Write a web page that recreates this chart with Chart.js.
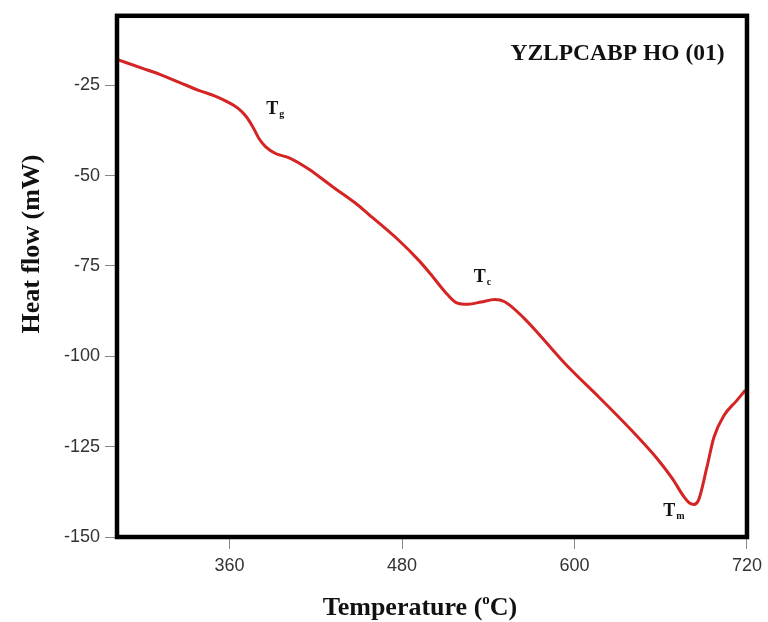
<!DOCTYPE html>
<html>
<head>
<meta charset="utf-8">
<script src="https://cdn.jsdelivr.net/npm/chart.js@4"></script>
<style>
html,body{margin:0;padding:0;background:#fff;}
canvas{display:block;}
</style>
</head>
<body>
<canvas id="c" width="768" height="622"></canvas>
<script>
// ---- data ----
const temperature = [281.7, 300, 311.5, 325, 339, 350, 357.5, 366, 371.4, 376, 380.7, 385, 392, 401.5, 415, 431, 447.5, 457, 477.7, 491.5, 500, 510, 518, 526, 535, 544.5, 551.4, 565, 576.8, 590.6, 600, 616, 639, 657.7, 668, 676.2, 680, 683, 686.5, 692, 697, 704, 713, 718.8];
const heatFlow    = [-17.9, -20.4, -22, -24.2, -26.5, -28.0, -29.4, -31.4, -33.6, -36.4, -39.9, -42.0, -43.9, -45.1, -48.2, -52.9, -57.6, -60.8, -67.9, -73.4, -77.3, -82.2, -85.2, -85.6, -85, -84.3, -84.9, -89.5, -94.6, -100.8, -104.7, -110.9, -120.2, -128.4, -133.8, -138.9, -140.6, -141, -139.6, -130.9, -122.4, -116.4, -112.2, -109.4];
const xTicks = [360, 480, 600, 720];
const yTicks = [-150, -125, -100, -75, -50, -25];
const chartTitle = 'YZLPCABP HO (01)';
const xTitle = ['Temperature (', 'o', 'C)'];
const yTitle = 'Heat flow (mW)';
const annotations = [
  {x: 389.7, y: -31.6, main: 'T', sub: 'g'},
  {x: 534, y: -78, main: 'T', sub: 'c'},
  {x: 666, y: -142.8, main: 'T', sub: 'm'}
];

const points = temperature.map((t, i) => ({x: t, y: heatFlow[i]}));

const serif = '"Liberation Serif", "Times New Roman", serif';

const decor = {
  id: 'decor',
  afterDraw(chart) {
    const ctx = chart.ctx;
    const a = chart.chartArea;
    const xs = chart.scales.x, ys = chart.scales.y;
    ctx.save();
    // frame
    ctx.strokeStyle = '#000';
    ctx.lineWidth = 4.5;
    ctx.strokeRect(a.left, a.top, a.right - a.left, a.bottom - a.top);
    // chart title
    ctx.fillStyle = '#111';
    ctx.font = 'bold 23.5px ' + serif;
    ctx.textAlign = 'center';
    ctx.textBaseline = 'middle';
    ctx.fillText(chartTitle, 617.5, 54);
    // annotations
    annotations.forEach(an => {
      const px = xs.getPixelForValue(an.x);
      const py = ys.getPixelForValue(an.y);
      ctx.font = 'bold 18px ' + serif;
      ctx.textAlign = 'left';
      ctx.textBaseline = 'alphabetic';
      const w = ctx.measureText(an.main).width;
      ctx.fillText(an.main, px - w / 2, py + 5);
      ctx.font = 'bold 10px ' + serif;
      ctx.fillText(an.sub, px + w / 2 + 1, py + 8);
    });
    // x title with superscript
    ctx.font = 'bold 26px ' + serif;
    const w1 = ctx.measureText(xTitle[0]).width;
    const w3 = ctx.measureText(xTitle[2]).width;
    ctx.font = 'bold 15px ' + serif;
    const w2 = ctx.measureText(xTitle[1]).width;
    const total = w1 + w2 + w3;
    let sx = 420 - total / 2;
    const base = 615;
    ctx.textAlign = 'left';
    ctx.textBaseline = 'alphabetic';
    ctx.font = 'bold 26px ' + serif;
    ctx.fillText(xTitle[0], sx, base);
    ctx.font = 'bold 15px ' + serif;
    ctx.fillText(xTitle[1], sx + w1, base - 11);
    ctx.font = 'bold 26px ' + serif;
    ctx.fillText(xTitle[2], sx + w1 + w2, base);
    // y title
    ctx.translate(32, 244);
    ctx.rotate(-Math.PI / 2);
    ctx.textAlign = 'center';
    ctx.textBaseline = 'middle';
    ctx.font = 'bold 26px ' + serif;
    ctx.fillText(yTitle, 0, 0);
    ctx.restore();
  }
};

new Chart(document.getElementById('c'), {
  type: 'line',
  data: {
    datasets: [{
      data: points,
      borderColor: '#d42424',
      borderWidth: 3,
      pointRadius: 0,
      fill: false,
      cubicInterpolationMode: 'monotone'
    }]
  },
  options: {
    responsive: false,
    animation: false,
    layout: {padding: {left: 0, right: 18, top: 13, bottom: 0}},
    plugins: {legend: {display: false}, tooltip: {enabled: false}},
    scales: {
      x: {
        type: 'linear',
        min: 281.7,
        max: 720,
        afterBuildTicks: s => { s.ticks = xTicks.map(v => ({value: v})); },
        afterFit: s => { s.height = 85; },
        border: {display: false},
        grid: {drawOnChartArea: false, color: '#888', tickLength: 12, lineWidth: 1},
        ticks: {font: {family: '"Liberation Sans", Arial, sans-serif', size: 18}, color: '#333', padding: 6, maxRotation: 0}
      },
      y: {
        type: 'linear',
        min: -150,
        max: -5.8,
        afterBuildTicks: s => { s.ticks = yTicks.map(v => ({value: v})); },
        afterFit: s => { s.width = 117; },
        border: {display: false},
        grid: {drawOnChartArea: false, color: '#888', tickLength: 12, lineWidth: 1},
        ticks: {font: {family: '"Liberation Sans", Arial, sans-serif', size: 18}, color: '#333', padding: 5}
      }
    }
  },
  plugins: [decor]
});
</script>
</body>
</html>
